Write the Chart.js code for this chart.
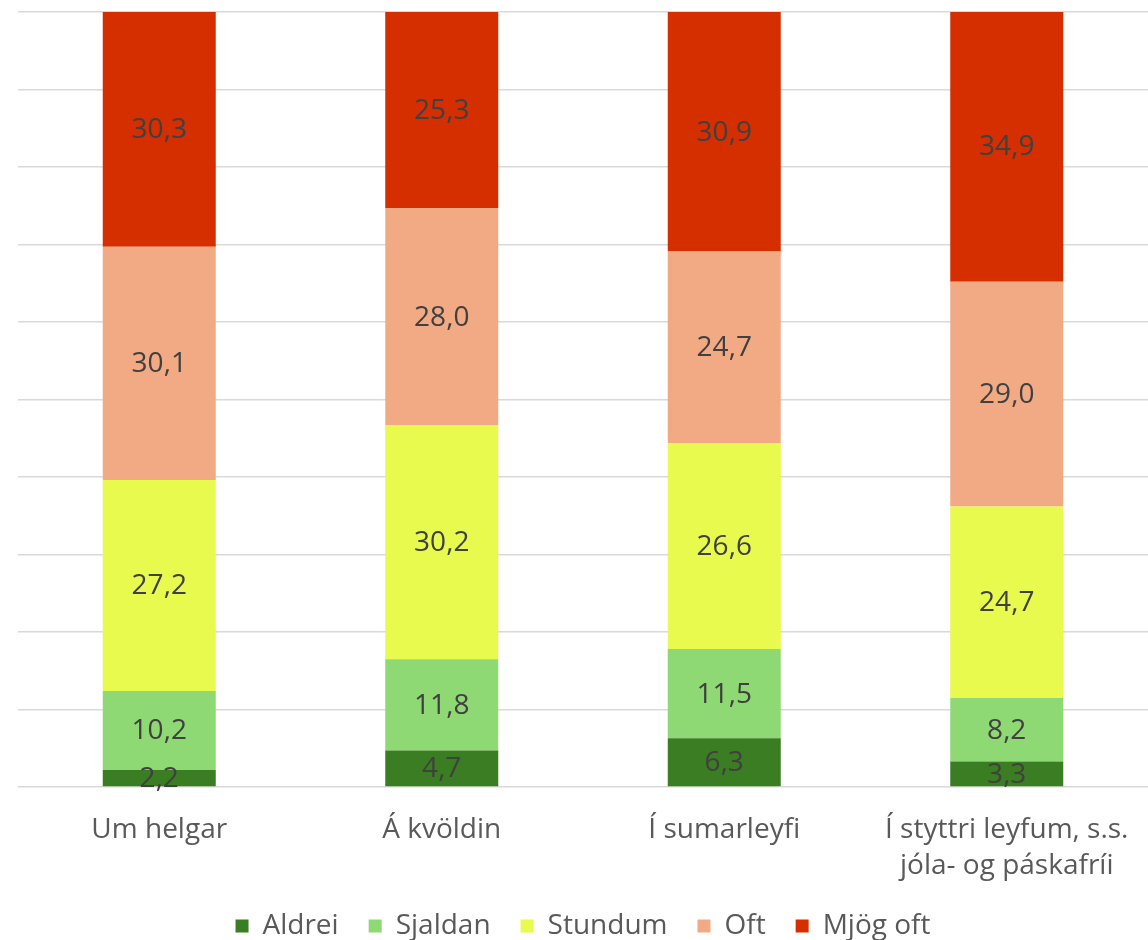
<!DOCTYPE html>
<html lang="is">
<head>
<meta charset="utf-8">
<script src="https://cdn.jsdelivr.net/npm/chart.js@4"></script>
<style>
  html, body { margin: 0; padding: 0; background: #fff; }
  #wrap { width: 1148px; height: 940px; position: relative; }
</style>
</head>
<body>
<div id="wrap"><canvas id="chart"></canvas></div>
<script>
// ─── Datos ────────────────────────────────────────
const flokkar = ['Um helgar', 'Á kvöldin', 'Í sumarleyfi', ['Í styttri leyfum, s.s.', 'jóla- og páskafríi']];
const aldrei  = [2.2, 4.7, 6.3, 3.3];
const sjaldan = [10.2, 11.8, 11.5, 8.2];
const stundum = [27.2, 30.2, 26.6, 24.7];
const oft     = [30.1, 28.0, 24.7, 29.0];
const mjogOft = [30.3, 25.3, 30.9, 34.9];

const heiti = ['Aldrei', 'Sjaldan', 'Stundum', 'Oft', 'Mjög oft'];
const litir = ['#3b7d23', '#8ed973', '#e8fa4d', '#f2aa84', '#d52f00'];

const FONT = "'Open Sans', sans-serif";
const STAERD = 28;

// ─── Etiquetas dentro de las barras ──────────────
const gildiPlugin = {
  id: 'gildi',
  afterDatasetsDraw(chart) {
    const c = chart.ctx;
    c.save();
    c.font = STAERD + 'px ' + FONT;
    c.fillStyle = '#404040';
    c.textAlign = 'center';
    c.textBaseline = 'middle';
    chart.data.datasets.forEach((ds, i) => {
      chart.getDatasetMeta(i).data.forEach((bar, j) => {
        const v = ds.data[j];
        c.fillText(v.toFixed(1).replace('.', ','), bar.x, (bar.y + bar.base) / 2 + 1);
      });
    });
    c.restore();
  }
};

const gogn = [aldrei, sjaldan, stundum, oft, mjogOft];

new Chart(document.getElementById('chart'), {
  type: 'bar',
  data: {
    labels: flokkar,
    datasets: gogn.map((d, i) => ({
      label: heiti[i],
      data: d,
      backgroundColor: litir[i],
      borderWidth: 0,
      barPercentage: 0.4,
      categoryPercentage: 1
    }))
  },
  options: {
    responsive: true,
    maintainAspectRatio: false,
    animation: false,
    layout: { padding: { left: 18, top: 12, right: 0, bottom: 0 } },
    plugins: {
      legend: {
        position: 'bottom',
        maxHeight: 58,
        labels: {
          font: { family: FONT, size: STAERD },
          color: '#595959',
          boxWidth: 13,
          boxHeight: 13,
          padding: 30
        }
      },
      tooltip: { enabled: false }
    },
    scales: {
      x: {
        stacked: true,
        grid: { display: false },
        border: { display: false },
        ticks: { font: { family: FONT, size: STAERD, lineHeight: 1.28 }, color: '#595959', padding: 17, maxRotation: 0 },
        afterFit(scale) { scale.height = 95; }
      },
      y: {
        stacked: true,
        min: 0,
        max: 100,
        ticks: { display: false, stepSize: 10 },
        border: { display: false },
        grid: { color: '#d9d9d9', lineWidth: 1.5, drawTicks: false }
      }
    }
  },
  plugins: [gildiPlugin]
});
</script>
</body>
</html>
